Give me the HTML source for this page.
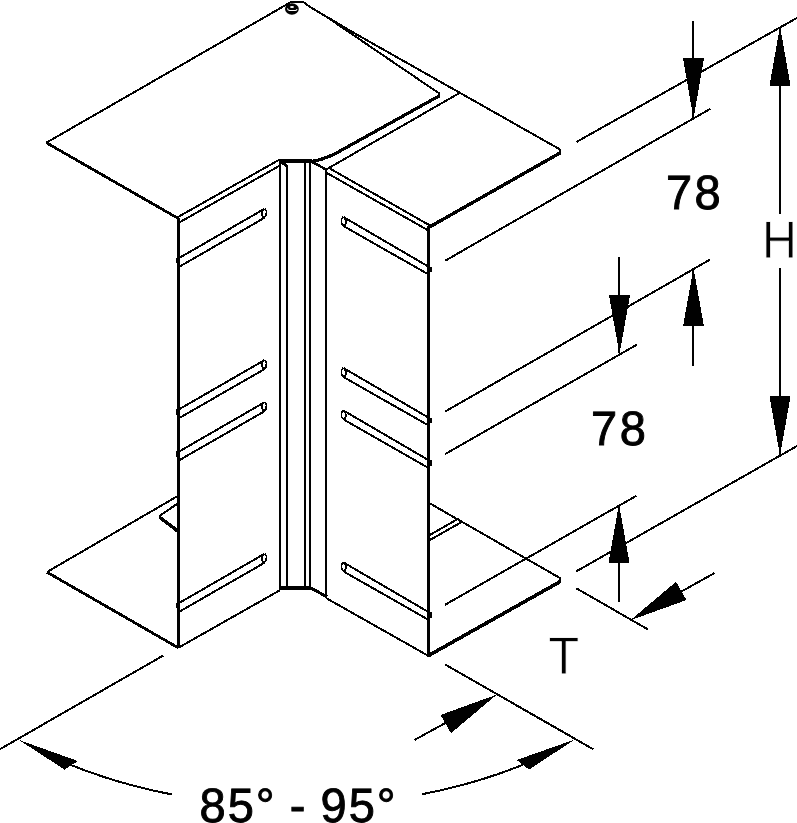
<!DOCTYPE html>
<html><head><meta charset="utf-8"><title>Drawing</title>
<style>
html,body{margin:0;padding:0;background:#fff;}
svg{display:block}
svg text{font-family:"Liberation Sans",sans-serif;fill:#000;stroke:none;text-rendering:geometricPrecision}
svg{will-change:transform;opacity:0.999}
</style></head>
<body>
<svg width="797" height="823" viewBox="0 0 797 823" stroke="#000" fill="none" stroke-linejoin="round" shape-rendering="crispEdges">
<rect x="0" y="0" width="797" height="823" fill="#fff" stroke="none"/>
<path d="M46.5,142.6 L291.4,1.8 L303.2,1.8" stroke-width="2.0" fill="none"/>
<path d="M46.5,142.8 L177.5,218" stroke-width="2.8" fill="none"/>
<line x1="325" y1="15.8" x2="439" y2="93.3" stroke-width="2.0" stroke-linecap="butt"/>
<line x1="439" y1="93" x2="439" y2="97" stroke-width="2.0" stroke-linecap="butt"/>
<path d="M439,96.0 L337.6,152.4 Q322,160.4 311.5,161.4" stroke-width="3.2" fill="none"/>
<line x1="279" y1="161" x2="312" y2="161" stroke-width="4" stroke-linecap="butt"/>
<path d="M303.2,1.8 L310,7 L355,33.5 L560.3,149.6 L560.3,154" stroke-width="2.0" fill="none"/>
<path d="M560.3,152.8 L429.5,227" stroke-width="3.4" fill="none"/>
<line x1="459" y1="93.3" x2="327" y2="169" stroke-width="2.0" stroke-linecap="butt"/>
<g shape-rendering="auto"><ellipse cx="291.9" cy="9" rx="6.9" ry="5.8" stroke="none" fill="#000"/>
<ellipse cx="292" cy="7" rx="2" ry="0.9" stroke="none" fill="#fff"/>
<path d="M287.4,8.4 Q287.8,10.3 289.4,10.4 L295.4,10.5 Q296.8,10.4 297,9.1" stroke="#fff" stroke-width="1.1" fill="none"/></g>
<line x1="178.5" y1="217.6" x2="178.5" y2="648" stroke-width="3" stroke-linecap="butt"/>
<line x1="177" y1="217.6" x2="279.5" y2="159.6" stroke-width="2.0" stroke-linecap="butt"/>
<line x1="180.1" y1="222" x2="280" y2="165.5" stroke-width="2.0" stroke-linecap="butt"/>
<line x1="280" y1="160.5" x2="287.2" y2="166.5" stroke-width="3" stroke-linecap="butt"/>
<line x1="178.6" y1="647.6" x2="280" y2="590.2" stroke-width="2.0" stroke-linecap="butt"/>
<line x1="428.5" y1="225.5" x2="428.5" y2="657" stroke-width="3" stroke-linecap="butt"/>
<line x1="330.1" y1="168.7" x2="430.2" y2="225.6" stroke-width="2.0" stroke-linecap="butt"/>
<line x1="327" y1="173.1" x2="427.6" y2="230.0" stroke-width="2.0" stroke-linecap="butt"/>
<line x1="326.5" y1="598.3" x2="429.2" y2="656.3" stroke-width="2.0" stroke-linecap="butt"/>
<line x1="311.5" y1="161.5" x2="327" y2="170" stroke-width="2.6" stroke-linecap="butt"/>
<line x1="280" y1="161" x2="280" y2="588" stroke-width="2.0" stroke-linecap="butt"/>
<line x1="287" y1="165.8" x2="287" y2="586" stroke-width="2.0" stroke-linecap="butt"/>
<line x1="305" y1="162" x2="305" y2="586" stroke-width="2.0" stroke-linecap="butt"/>
<line x1="310" y1="162" x2="310" y2="588" stroke-width="2.0" stroke-linecap="butt"/>
<line x1="326" y1="170" x2="326" y2="598" stroke-width="2.0" stroke-linecap="butt"/>
<line x1="279" y1="588" x2="310.5" y2="588" stroke-width="4" stroke-linecap="butt"/>
<line x1="309.5" y1="587.3" x2="327" y2="596.8" stroke-width="3" stroke-linecap="butt"/>
<path d="M179.5,257.8 L264.6,208.7" stroke-width="2.0" fill="none"/>
<path d="M179.5,266.6 L263.6,218.3" stroke-width="2.0" fill="none"/>
<path d="M264.6,208.7 L266.5,211 L266.3,215.2 L263.6,218.2 L261.7,214 L262.8,210.2" stroke-width="1.8" fill="none"/>
<line x1="177" y1="257.6" x2="177" y2="263.4" stroke-width="2.6" stroke-linecap="butt"/>
<path d="M179.5,409.1 L264.6,360.0" stroke-width="2.0" fill="none"/>
<path d="M179.5,417.90000000000003 L263.6,369.6" stroke-width="2.0" fill="none"/>
<path d="M264.6,360.0 L266.5,362.3 L266.3,366.5 L263.6,369.5 L261.7,365.3 L262.8,361.5" stroke-width="1.8" fill="none"/>
<line x1="177" y1="408.90000000000003" x2="177" y2="414.7" stroke-width="2.6" stroke-linecap="butt"/>
<path d="M179.5,451.3 L264.6,402.2" stroke-width="2.0" fill="none"/>
<path d="M179.5,460.1 L263.6,411.8" stroke-width="2.0" fill="none"/>
<path d="M264.6,402.2 L266.5,404.5 L266.3,408.7 L263.6,411.7 L261.7,407.5 L262.8,403.7" stroke-width="1.8" fill="none"/>
<line x1="177" y1="451.1" x2="177" y2="456.9" stroke-width="2.6" stroke-linecap="butt"/>
<path d="M179.5,602.8 L264.6,553.7" stroke-width="2.0" fill="none"/>
<path d="M179.5,611.6 L263.6,563.3" stroke-width="2.0" fill="none"/>
<path d="M264.6,553.7 L266.5,556 L266.3,560.2 L263.6,563.2 L261.7,559 L262.8,555.2" stroke-width="1.8" fill="none"/>
<line x1="177" y1="602.6" x2="177" y2="608.4" stroke-width="2.6" stroke-linecap="butt"/>
<path d="M343.3,216.9 L430.7,267.9" stroke-width="2.0" fill="none"/>
<path d="M344.4,226.5 L427.7,274.0" stroke-width="2.0" fill="none"/>
<path d="M343.3,216.9 L341.4,219.2 L341.6,223.4 L344.4,226.4 L346.2,222.2 L345.1,218.4" stroke-width="1.8" fill="none"/>
<line x1="430.8" y1="266.6" x2="430.8" y2="272.4" stroke-width="2.6" stroke-linecap="butt"/>
<path d="M343.3,367.9 L430.7,418.9" stroke-width="2.0" fill="none"/>
<path d="M344.4,377.5 L427.7,425.0" stroke-width="2.0" fill="none"/>
<path d="M343.3,367.9 L341.4,370.2 L341.6,374.4 L344.4,377.4 L346.2,373.2 L345.1,369.4" stroke-width="1.8" fill="none"/>
<line x1="430.8" y1="417.6" x2="430.8" y2="423.4" stroke-width="2.6" stroke-linecap="butt"/>
<path d="M343.3,410.4 L430.7,461.4" stroke-width="2.0" fill="none"/>
<path d="M344.4,420.0 L427.7,467.5" stroke-width="2.0" fill="none"/>
<path d="M343.3,410.4 L341.4,412.7 L341.6,416.9 L344.4,419.9 L346.2,415.7 L345.1,411.9" stroke-width="1.8" fill="none"/>
<line x1="430.8" y1="460.1" x2="430.8" y2="465.9" stroke-width="2.6" stroke-linecap="butt"/>
<path d="M343.3,562.3 L430.7,613.3" stroke-width="2.0" fill="none"/>
<path d="M344.4,571.9 L427.7,619.4" stroke-width="2.0" fill="none"/>
<path d="M343.3,562.3 L341.4,564.5999999999999 L341.6,568.8 L344.4,571.8 L346.2,567.5999999999999 L345.1,563.8" stroke-width="1.8" fill="none"/>
<line x1="430.8" y1="612.0" x2="430.8" y2="617.8" stroke-width="2.6" stroke-linecap="butt"/>
<path d="M177.6,496.1 L47,572" stroke-width="2.0" fill="none"/>
<path d="M47,572.2 L178.6,648" stroke-width="2.8" fill="none"/>
<path d="M177.6,503.6 L161,514.8 Q159,516.3 160.5,518" stroke-width="2.0" fill="none"/>
<path d="M159.6,517.2 L178,531.3" stroke-width="3.4" fill="none"/>
<path d="M428.5,502.6 L560.2,578.2 L560.2,583" stroke-width="2.0" fill="none"/>
<path d="M560.2,581.6 L428.5,655.6" stroke-width="3.6" fill="none"/>
<line x1="428.5" y1="535.8" x2="458" y2="518.8" stroke-width="2.0" stroke-linecap="butt"/>
<line x1="428.5" y1="540.8" x2="461" y2="522.4" stroke-width="2.0" stroke-linecap="butt"/>
<line x1="457.5" y1="518" x2="461.5" y2="523" stroke-width="2.0" stroke-linecap="butt"/>
<line x1="576.4" y1="142" x2="797" y2="17.9" stroke-width="2.0" stroke-linecap="butt"/>
<line x1="445.2" y1="260.7" x2="710.3" y2="108.8" stroke-width="2.0" stroke-linecap="butt"/>
<line x1="445.2" y1="411.5" x2="710.2" y2="259.5" stroke-width="2.0" stroke-linecap="butt"/>
<line x1="445.2" y1="454" x2="636.7" y2="344.8" stroke-width="2.0" stroke-linecap="butt"/>
<line x1="445" y1="604.8" x2="636.5" y2="495.7" stroke-width="2.0" stroke-linecap="butt"/>
<line x1="576.2" y1="571.4" x2="797" y2="446" stroke-width="2.0" stroke-linecap="butt"/>
<line x1="693" y1="20.8" x2="693" y2="60" stroke-width="2" stroke-linecap="butt"/>
<polygon points="693.3,117.8 693.7,117.8 704.0,58.2 683.0,58.2" fill="#000" stroke="none"/>
<line x1="693" y1="117.8" x2="693" y2="58.2" stroke-width="2" stroke-linecap="butt"/>
<line x1="780" y1="80" x2="780" y2="213.6" stroke-width="2" stroke-linecap="butt"/>
<polygon points="779.8,27.3 780.2,27.3 790.5,85.7 769.5,85.7" fill="#000" stroke="none"/>
<line x1="780" y1="27.3" x2="780" y2="85.7" stroke-width="2" stroke-linecap="butt"/>
<line x1="780" y1="268.4" x2="780" y2="400" stroke-width="2" stroke-linecap="butt"/>
<polygon points="779.8,454.6 780.2,454.6 790.5,396.3 769.5,396.3" fill="#000" stroke="none"/>
<line x1="780" y1="454.6" x2="780" y2="396.3" stroke-width="2" stroke-linecap="butt"/>
<line x1="619" y1="256.5" x2="619" y2="300" stroke-width="2" stroke-linecap="butt"/>
<polygon points="619.3,353.1 619.7,353.1 630.0,295.2 609.0,295.2" fill="#000" stroke="none"/>
<line x1="619" y1="353.1" x2="619" y2="295.2" stroke-width="2" stroke-linecap="butt"/>
<line x1="693" y1="320" x2="693" y2="365.6" stroke-width="2" stroke-linecap="butt"/>
<polygon points="693.3,269.0 693.7,269.0 704.0,326.4 683.0,326.4" fill="#000" stroke="none"/>
<line x1="693" y1="269" x2="693" y2="326.4" stroke-width="2" stroke-linecap="butt"/>
<line x1="619" y1="555" x2="619" y2="601.5" stroke-width="2" stroke-linecap="butt"/>
<polygon points="618.8,505.1 619.2,505.1 629.5,562.9 608.5,562.9" fill="#000" stroke="none"/>
<line x1="619" y1="505.1" x2="619" y2="562.9" stroke-width="2" stroke-linecap="butt"/>
<line x1="576.2" y1="588.2" x2="647.9" y2="629.4" stroke-width="2.0" stroke-linecap="butt"/>
<line x1="444.7" y1="664.3" x2="593.2" y2="749.2" stroke-width="2.0" stroke-linecap="butt"/>
<polygon points="630.2,620.4 676.0,581.8 686.5,600.0" fill="#000" stroke="none"/>
<line x1="660" y1="603.5" x2="714.4" y2="573.1" stroke-width="2.0" stroke-linecap="butt"/>
<polygon points="496.8,694.6 451.0,733.2 440.5,715.0" fill="#000" stroke="none"/>
<line x1="414.6" y1="739.9" x2="470" y2="709.5" stroke-width="2.0" stroke-linecap="butt"/>
<line x1="163.1" y1="655.6" x2="0" y2="749.2" stroke-width="2.0" stroke-linecap="butt"/>
<path d="M60.0,760.4 L65.1,762.6 L70.3,764.7 L75.5,766.8 L80.8,768.8 L86.1,770.8 L91.5,772.7 L97.0,774.6 L102.5,776.5 L108.0,778.3 L113.6,780.0 L119.3,781.7 L125.0,783.3 L130.7,784.9 L136.5,786.4 L142.3,787.9 L148.2,789.3 L154.1,790.7 L160.0,792.0 L166.0,793.2 L172.0,794.4" stroke-width="2.0" fill="none"/>
<path d="M533.0,760.5 L527.9,762.6 L522.8,764.7 L517.6,766.8 L512.4,768.8 L507.1,770.8 L501.8,772.7 L496.4,774.6 L490.9,776.4 L485.4,778.2 L479.9,779.9 L474.3,781.6 L468.6,783.2 L462.9,784.8 L457.2,786.3 L451.4,787.7 L445.6,789.2 L439.8,790.5 L433.9,791.8 L428.0,793.0 L422.0,794.2" stroke-width="2.0" fill="none"/>
<polygon points="18.8,739.9 77.8,761.0 64.7,769.7" fill="#000" stroke="none"/>
<polygon points="574.4,739.6 516.7,760.0 529.2,769.7" fill="#000" stroke="none"/>
<text transform="translate(665.9,208.7) scale(1,1.025)" font-size="47" letter-spacing="2.4" text-anchor="start" stroke="#000" stroke-width="0.9" stroke-linejoin="miter" style="stroke:#000">78</text>
<text transform="translate(591.1,444.9) scale(1,1.025)" font-size="47" letter-spacing="2.4" text-anchor="start" stroke="#000" stroke-width="0.9" stroke-linejoin="miter" style="stroke:#000">78</text>
<text transform="translate(762.0,257.6) scale(1,1.095)" font-size="48.3" letter-spacing="2" text-anchor="start" stroke="#fff" stroke-width="0.7" stroke-linejoin="miter" style="stroke:#fff">H</text>
<text transform="translate(548.3,673.5) scale(1.05,1.095)" font-size="48.3" letter-spacing="2" text-anchor="start" stroke="#fff" stroke-width="0.7" stroke-linejoin="miter" style="stroke:#fff">T</text>
<text transform="translate(199.5,821.9) scale(1,1.025)" font-size="47" letter-spacing="2" text-anchor="start" stroke="#000" stroke-width="0.9" stroke-linejoin="miter" style="stroke:#000" word-spacing="-1.9">85° - 95°</text>
</svg>
</body></html>
